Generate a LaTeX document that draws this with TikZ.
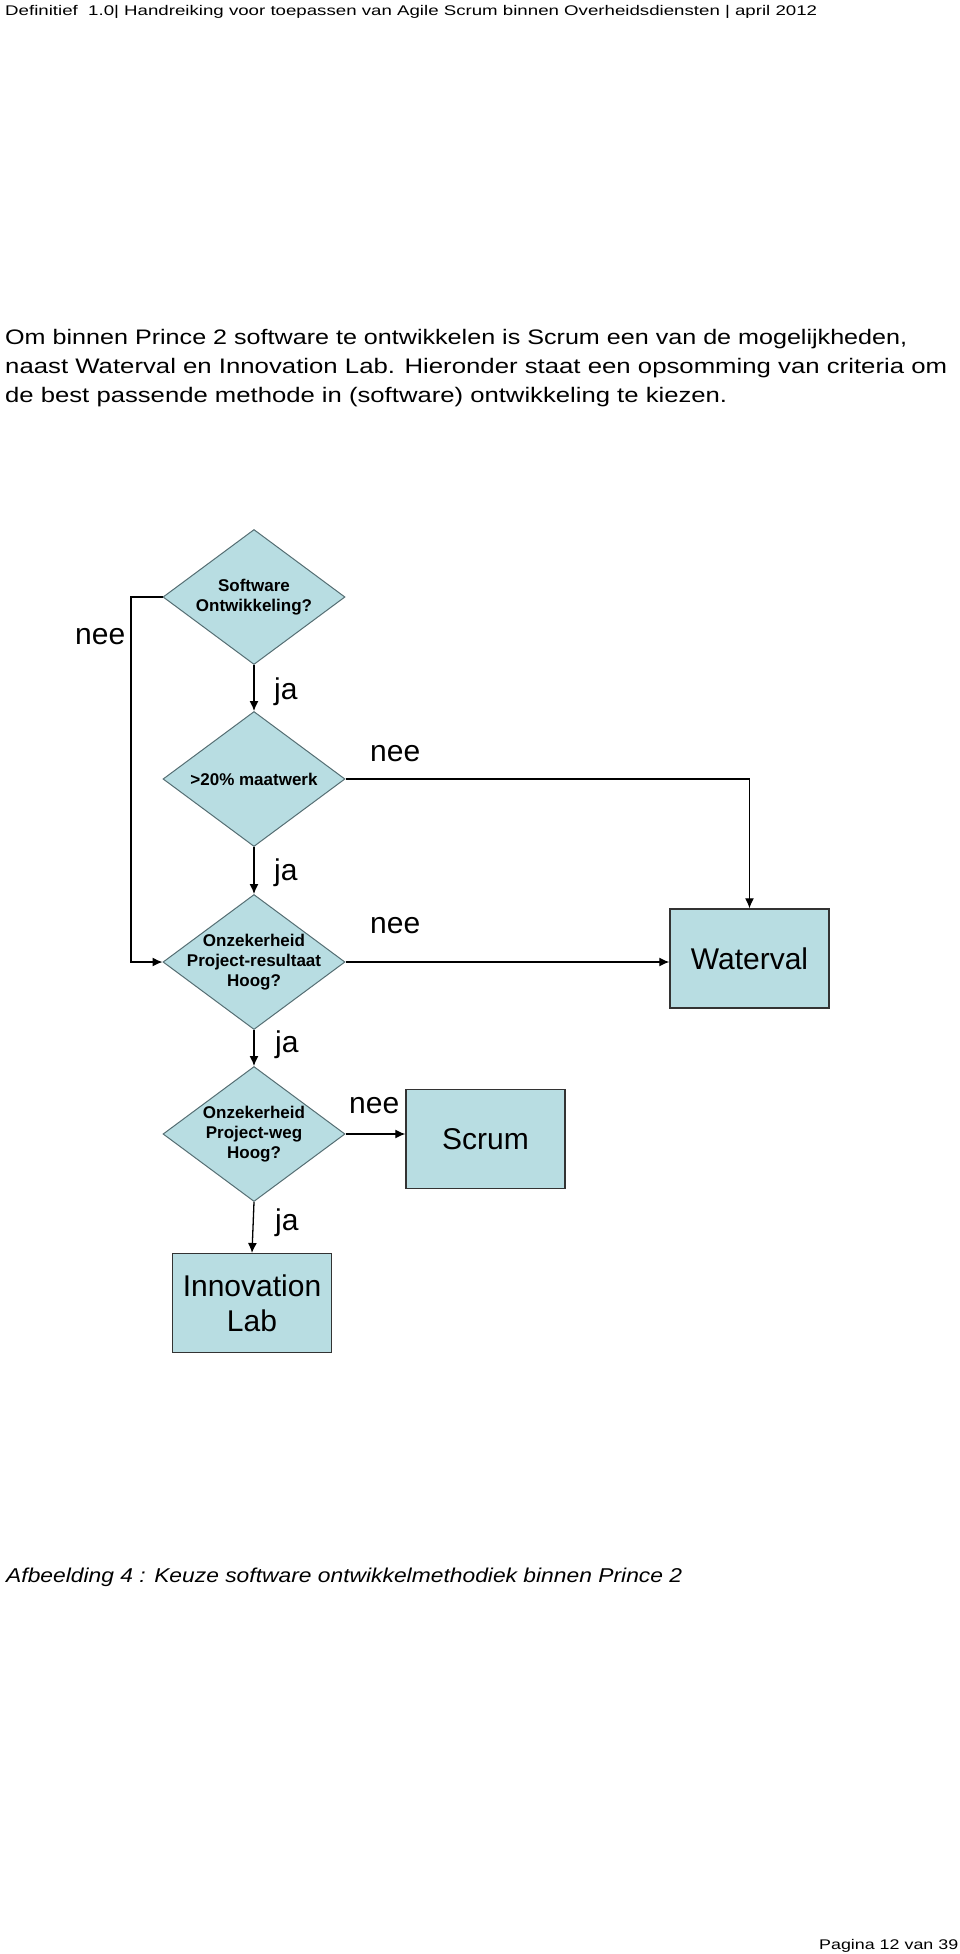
\documentclass[tikz,border=0pt]{standalone}
\usepackage{fontspec}
\setmainfont{Liberation Sans}
\usetikzlibrary{
  positioning,
  shapes.geometric,
  arrows.meta,
}
\definecolor{flowfill}{RGB}{184,221,226}
\definecolor{diamondline}{RGB}{85,110,115}
\newcommand\stretchline[2]{\resizebox{#1}{\height}{#2}}
\tikzset{
  x=1pt,
  y=-1pt,
  >={Latex[length=10pt,width=9pt]},
  flow/.style={
    ->,
    line width=1.3pt,
    black,
  },
  decision/.style={
    diamond,
    draw=diamondline,
    line width=1pt,
    fill=flowfill,
    inner sep=0pt,
    minimum width=182pt,
    minimum height=135pt,
  },
  decisiontext/.style={
    align=center,
    inner sep=0pt,
    font=\fontsize{17}{20}\selectfont\bfseries,
  },
  outcome/.style={
    rectangle,
    draw=black!80,
    line width=1.4pt,
    fill=flowfill,
    align=center,
    minimum width=159pt,
    minimum height=99pt,
    font=\fontsize{30}{35}\selectfont,
  },
  answer/.style={
    anchor=base west,
    inner sep=0pt,
    font=\fontsize{30}{35}\selectfont,
  },
  pagetext/.style={
    anchor=base west,
    inner sep=0pt,
  },
}
\begin{document}
\begin{tikzpicture}
  \useasboundingbox[fill=white] (0,0) rectangle (960,1954);

  \node[pagetext, font=\fontsize{14}{16}\selectfont] (header) at (5,15)
    {\stretchline{812pt}{Definitief\ \ 1.0| Handreiking voor toepassen van Agile Scrum binnen Overheidsdiensten | april 2012}};
  \node[pagetext, font=\fontsize{21}{24}\selectfont] (par1) at (5,344)
    {\stretchline{902pt}{Om binnen Prince 2 software te ontwikkelen is Scrum een van de mogelijkheden,}};
  \node[pagetext, font=\fontsize{21}{24}\selectfont] (par2) at (5,373)
    {\stretchline{942pt}{naast Waterval en Innovation Lab. Hieronder staat een opsomming van criteria om}};
  \node[pagetext, font=\fontsize{21}{24}\selectfont] (par3) at (5,402)
    {\stretchline{722pt}{de best passende methode in (software) ontwikkeling te kiezen.}};

  \node[decision, label={[decisiontext]center:Software\\Ontwikkeling?}] (software) at (254,597) {};
  \node[decision, below=46pt of software, label={[decisiontext]center:>20\% maatwerk}] (maatwerk) {};
  \node[decision, below=47pt of maatwerk, label={[decisiontext]center:Onzekerheid\\Project-resultaat\\Hoog?}] (resultaat) {};
  \node[decision, below=36pt of resultaat, label={[decisiontext]center:Onzekerheid\\Project-weg\\Hoog?}] (weg) {};

  \node[outcome] (waterval) at (749.5,958.5) {Waterval};
  \node[outcome] (scrum) at (485.5,1139) {Scrum};
  \node[outcome, below=51pt of weg, xshift=-2pt] (lab) {Innovation\\Lab};

  \coordinate (loop) at (131,597);

  \draw[flow] (software.south) -- (maatwerk.north);
  \draw[flow] (maatwerk.south) -- (resultaat.north);
  \draw[flow] (resultaat.south) -- (weg.north);
  \draw[flow] (weg.south) -- (lab.north);
  \draw[flow] (software.west) -- (loop) |- (resultaat.west);
  \draw[flow] (maatwerk.east) -| (waterval.north);
  \draw[flow] (resultaat.east) -- (resultaat.east -| waterval.west);
  \draw[flow] (weg.east) -- (weg.east -| scrum.west);

  \node[answer] (nee1) at (75,644) {nee};
  \node[answer] (ja1) at (274,699) {ja};
  \node[answer] (nee2) at (370,761) {nee};
  \node[answer] (ja2) at (274,880) {ja};
  \node[answer] (nee3) at (370,933) {nee};
  \node[answer] (ja3) at (275,1052) {ja};
  \node[answer] (nee4) at (349,1113) {nee};
  \node[answer] (ja4) at (275,1230) {ja};

  \node[pagetext, font=\fontsize{20}{24}\selectfont\itshape] (caption) at (6,1582)
    {\stretchline{676pt}{Afbeelding 4 : Keuze software ontwikkelmethodiek binnen Prince 2}};
  \node[pagetext, font=\fontsize{14}{16}\selectfont] (footer) at (819,1949)
    {\stretchline{139pt}{Pagina 12 van 39}};
\end{tikzpicture}
\end{document}
